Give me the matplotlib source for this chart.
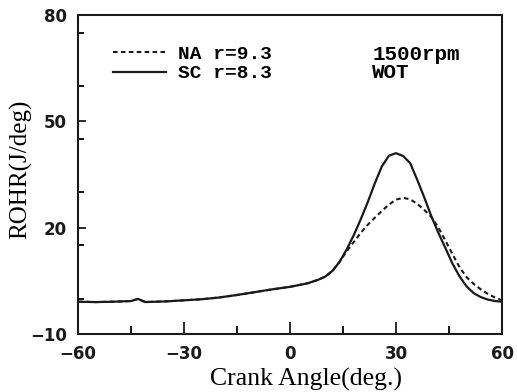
import numpy as np
from matplotlib import pyplot as plt
from matplotlib.ticker import MultipleLocator

# crank angle (deg) and rate of heat release (J/deg)
angle = [-60, -55, -50, -45, -43, -41, -35, -30, -25, -20, -15, -10, -5, 0,
         5, 8, 10, 12, 14, 16, 18, 20, 22, 24, 26, 28, 30, 32, 34, 36, 38,
         40, 42, 44, 46, 48, 50, 52, 54, 56, 58, 60]
rohr_sc = [-0.9, -1.0, -0.9, -0.7, -0.1, -1.0, -0.8, -0.5, -0.2, 0.3, 1.0, 1.8, 2.6, 3.3,
           4.3, 5.3, 6.2, 7.8, 10.3, 13.8, 17.8, 22.3, 27.2, 32.5, 37.3, 40.3, 41.0, 40.2,
           38.2, 33.5, 28.5, 23.2, 18.5, 14.2, 9.8, 6.2, 3.4, 1.5, 0.4, -0.3, -0.7, -0.9]
rohr_na = [-0.9, -1.0, -0.9, -0.7, -0.1, -1.0, -0.8, -0.5, -0.2, 0.3, 1.0, 1.8, 2.6, 3.3,
           4.3, 5.3, 6.2, 7.8, 10.3, 13.3, 15.9, 18.5, 20.8, 22.8, 24.7, 26.5, 27.9, 28.4,
           28.0, 26.7, 25.0, 23.0, 20.0, 16.3, 12.5, 8.8, 6.0, 4.1, 2.6, 1.3, 0.3, -0.5]

xticks = [-60, -30, 0, 30, 60]
yticks = [-10, 20, 50, 80]

fig = plt.figure(figsize=(5.17, 3.92), dpi=100)
ax = fig.add_axes([0.151, 0.148, 0.820, 0.814])

ax.plot(angle, rohr_na, color="#1a1a1a", lw=1.5, dashes=(2.2, 1.6), label="NA r=9.3")
ax.plot(angle, rohr_sc, color="#1a1a1a", lw=1.6, label="SC r=8.3")

ax.set_xlim(-60, 60)
ax.set_ylim(-10, 80)
ax.set_xticks(xticks)
ax.set_yticks(yticks)
ax.xaxis.set_minor_locator(MultipleLocator(15))
ax.yaxis.set_minor_locator(MultipleLocator(15))
ax.set_yticklabels(["\u221210", "20", "50", "80"])

tickfont = {"family": "DejaVu Sans", "weight": "bold", "size": 12}
for lab in ax.get_xticklabels() + ax.get_yticklabels():
    lab.set_fontproperties(tickfont)

ax.tick_params(axis="x", which="major", direction="in", length=9, width=1.3, pad=8, colors="#1a1a1a")
ax.tick_params(axis="x", which="minor", direction="in", length=6, width=1.3)
ax.tick_params(axis="y", which="major", direction="in", length=6, width=1.3, pad=8, colors="#1a1a1a")
ax.tick_params(axis="y", which="minor", direction="in", length=4, width=1.3)
for s in ax.spines.values():
    s.set_linewidth(1.5)
    s.set_color("#1a1a1a")

ax.set_xlabel("Crank Angle(deg.)", family="Liberation Serif", fontsize=18.5)
ax.set_ylabel("ROHR(J/deg)", family="Liberation Serif", fontsize=18)
ax.xaxis.set_label_coords(0.538, -0.105)
ax.yaxis.set_label_coords(-0.108, 0.517)

ax.legend(loc="upper left", bbox_to_anchor=(0.083, 0.905), frameon=False,
          borderpad=0, borderaxespad=0, handlelength=2.7, handletextpad=0.65,
          labelspacing=0.1, prop={"family": "Liberation Mono", "weight": "bold", "size": 14})

ax.text(0.694, 0.859, "1500rpm", transform=ax.transAxes, va="baseline",
        family="Liberation Mono", weight="bold", fontsize=15)
ax.text(0.694, 0.8025, "WOT", transform=ax.transAxes, va="baseline",
        family="Liberation Mono", weight="bold", fontsize=15)

fig.savefig("out.png", dpi=100)
